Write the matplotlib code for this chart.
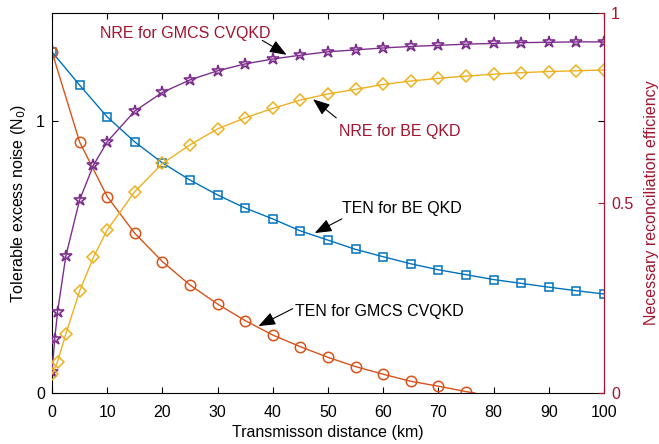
import numpy as np
import matplotlib.pyplot as plt

plt.rcParams['font.family'] = ['Liberation Sans', 'DejaVu Sans']
plt.rcParams['font.size'] = 11.5

# TEN curves (left axis), x every 5 km
dist_be = [0, 5, 10, 15, 20, 25, 30, 35, 40, 45, 50,
           55, 60, 65, 70, 75, 80, 85, 90, 95, 100]
ten_be = [1.254, 1.132, 1.015, 0.923, 0.846, 0.783, 0.728, 0.680, 0.640, 0.596, 0.562,
          0.528, 0.501, 0.475, 0.453, 0.435, 0.417, 0.403, 0.389, 0.376, 0.364]
dist_gmcs = [0, 5, 10, 15, 20, 25, 30, 35, 40, 45, 50, 55, 60, 65, 70, 75, 76.6]
ten_gmcs = [1.254, 0.923, 0.722, 0.587, 0.483, 0.397, 0.327, 0.266, 0.213, 0.170,
            0.131, 0.097, 0.069, 0.043, 0.025, 0.005, 0.0]

# NRE curves (right axis)
dist_nre_gmcs = [0, 0.5, 1, 2.5, 5, 7.5, 10, 15, 20, 25, 30, 35, 40, 45, 50,
                 55, 60, 65, 70, 75, 80, 85, 90, 95, 100]
nre_gmcs = [0.055, 0.143, 0.213, 0.360, 0.508, 0.599, 0.661, 0.742, 0.791, 0.824,
            0.848, 0.866, 0.879, 0.889, 0.898, 0.903, 0.908, 0.912, 0.915, 0.918,
            0.920, 0.922, 0.923, 0.924, 0.924]
dist_nre_be = [0, 1, 2.5, 5, 7.5, 10, 15, 20, 25, 30, 35, 40, 45, 50,
               55, 60, 65, 70, 75, 80, 85, 90, 95, 100]
nre_be = [0.050, 0.082, 0.155, 0.268, 0.357, 0.429, 0.530, 0.604, 0.653, 0.695,
          0.724, 0.749, 0.771, 0.787, 0.799, 0.812, 0.821, 0.828, 0.834, 0.839,
          0.843, 0.846, 0.848, 0.850]

c_blue = '#0072BD'
c_orange = '#D95319'
c_yellow = '#EDB120'
c_purple = '#7E2F8E'
c_red = '#A2142F'

fig = plt.figure(figsize=(6.59, 4.44), dpi=100)
ax = fig.add_axes([0.0789, 0.1149, 0.8376, 0.8558])
ax2 = ax.twinx()

ax.plot(dist_be, ten_be, color=c_blue, lw=1, marker='s', ms=6, mfc='none', mew=1.1)
ax.plot(dist_gmcs, ten_gmcs, color=c_orange, lw=1, marker='o', ms=7.5, mfc='none',
        mew=1.1, markevery=list(range(len(dist_gmcs) - 1)))
ax2.plot(dist_nre_gmcs, nre_gmcs, color=c_purple, lw=1, marker='*', ms=9, mfc='none', mew=1.2)
ax2.plot(dist_nre_be, nre_be, color=c_yellow, lw=1, marker='D', ms=6.5, mfc='none', mew=1.1)

ax.set_xlim(0, 100)
ax.set_ylim(0, 1.397)
ax2.set_ylim(0, 1)
ax.set_xticks(np.arange(0, 101, 10))
ax.set_yticks([0, 1])
ax.set_yticklabels(['0', '1'])
ax2.set_yticks([0, 0.5, 1])
ax2.set_yticklabels(['0', '0.5', '1'])

ax.tick_params(direction='in', top=True, right=True, length=4, width=0.8)
ax.tick_params(axis='x', pad=9)
ax.tick_params(axis='y', pad=5)
ax2.tick_params(direction='in', colors=c_red, length=4, width=0.8, pad=5)
for s in ['left', 'bottom', 'top']:
    ax.spines[s].set_linewidth(0.8)
ax2.spines['right'].set_color(c_red)
ax2.spines['right'].set_linewidth(0.8)
for s in ['left', 'bottom', 'top']:
    ax2.spines[s].set_visible(False)

ax.set_xlabel('Transmisson distance (km)', labelpad=3)
ax.set_ylabel('Tolerable excess noise (N$_0$)', labelpad=6)
ax2.set_ylabel('Necessary reconciliation efficiency', color=c_red, labelpad=8)

arrow = dict(arrowstyle='-|>,head_length=0.9,head_width=0.35', color='black', lw=0.8,
             shrinkA=0, shrinkB=0)
ax2.text(24.1, 0.947, 'NRE for GMCS CVQKD', ha='center', va='center', color=c_red)
ax2.annotate('', xy=(42.5, 0.89), xytext=(38.1, 0.928), arrowprops=arrow)
ax2.text(63.0, 0.687, 'NRE for BE QKD', ha='center', va='center', color=c_red)
ax2.annotate('', xy=(47.3, 0.773), xytext=(51.5, 0.724), arrowprops=arrow)
ax.text(63.4, 0.680, 'TEN for BE QKD', ha='center', va='center', color='black')
ax.annotate('', xy=(47.6, 0.588), xytext=(52.5, 0.64), arrowprops=arrow)
ax.text(59.4, 0.301, 'TEN for GMCS CVQKD', ha='center', va='center', color='black')
ax.annotate('', xy=(37.4, 0.246), xytext=(43.6, 0.31), arrowprops=arrow)

fig.savefig('out.png', dpi=100)
